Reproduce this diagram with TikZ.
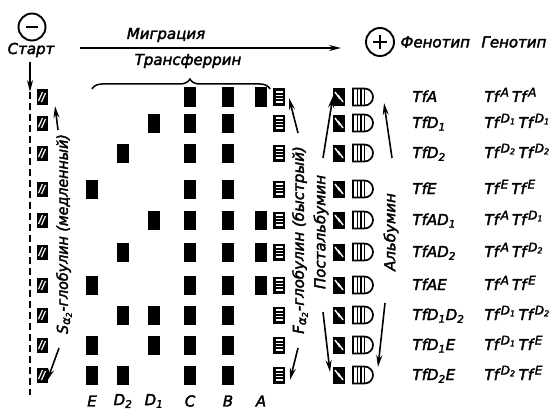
\documentclass[tikz,border=0pt]{standalone}
\usepackage{fontspec}
\setmainfont{DejaVu Sans}[ItalicFont=DejaVu Sans Oblique,ItalicFeatures={FakeBold=2.5}]
\usetikzlibrary{arrows.meta,decorations.pathreplacing,shapes.misc}
\def\tfxE{92}\def\tfxDb{123}\def\tfxDa{154}\def\tfxC{190}\def\tfxB{228}\def\tfxA{261}
\newcommand\gsp[1]{\kern1.8pt\raisebox{5.5pt}{\fontsize{12}{13}\selectfont #1}\kern3pt}
\newcommand\Dsb[1]{D\textsubscript{#1}}
\newcommand\asb{\textsubscript{\fontsize{12}{13}\selectfont α\textsubscript{2}}}
\begin{document}
\begin{tikzpicture}[x=1pt,y=-1pt,
  every node/.style={font=\itshape\fontsize{15}{17}\selectfont},
  band/.style={fill=black,inner sep=0,minimum width=12pt,minimum height=19pt},
  sbox/.style={fill=black,inner sep=0,minimum width=11pt,minimum height=15pt,
    path picture={
      \draw[white,line width=1.2pt] ([shift={(-3.5pt,-4pt)}]path picture bounding box.center) -- ([shift={(0.5pt,5pt)}]path picture bounding box.center);
      \draw[white,line width=1.2pt] ([shift={(-0.5pt,-5pt)}]path picture bounding box.center) -- ([shift={(3.5pt,4pt)}]path picture bounding box.center);}},
  fbox/.style={fill=black,inner sep=0,minimum width=12pt,minimum height=17pt,
    path picture={
      \foreach \d in {-5,-1.7,1.7,5}{
        \draw[white,line width=1.4pt] ([shift={(-3.5pt,\d pt)}]path picture bounding box.center) -- ([shift={(3.5pt,\d pt)}]path picture bounding box.center);}}},
  pbox/.style={fill=black,inner sep=0,minimum width=12pt,minimum height=17pt,
    path picture={
      \draw[white,line width=1.4pt] ([shift={(-4pt,5pt)}]path picture bounding box.center) -- ([shift={(1pt,-2pt)}]path picture bounding box.center);
      \draw[white,line width=1.4pt] ([shift={(-1pt,2pt)}]path picture bounding box.center) -- ([shift={(4pt,-5pt)}]path picture bounding box.center);}},
  abox/.style={rounded rectangle,rounded rectangle left arc=none,draw,line width=1.7pt,fill=white,
    inner sep=0,minimum width=20pt,minimum height=17pt,
    path picture={
      \foreach \d in {-5.5,-2,1.5}{
        \draw[line width=1.5pt] ([xshift=\d pt]path picture bounding box.north) -- ([xshift=\d pt]path picture bounding box.south);}}},
  arr/.style={-{Stealth[length=12pt,width=6pt]},line width=1.6pt},
  lbl/.style={rotate=90},
  sgn/.style={circle,draw,line width=1.9pt,inner sep=0}
]
\useasboundingbox (0,0) rectangle (549,412);

% poles
\node[sgn,minimum size=27pt] (minus) at (32,27) {};
\draw[line width=2.2pt] ([xshift=-6pt]minus.center) -- ([xshift=6pt]minus.center);
\node (start) at (31,50) {Старт};
\node[sgn,minimum size=28pt] (plus) at (380,42) {};
\draw[line width=2.2pt] ([xshift=-7pt]plus.center) -- ([xshift=7pt]plus.center)
  ([yshift=-7pt]plus.center) -- ([yshift=7pt]plus.center);
\node[anchor=west] (phen) at (397,42) {Фенотип};
\node[anchor=west] (gen) at (478,42) {Генотип};

% migration
\node (migr) at (166,35) {Миграция};
\coordinate (m0) at (80,48);
\coordinate (m1) at (341,48);
\draw[arr] (m0) -- (m1);
\node (transf) at (188,61) {Трансферрин};
\coordinate (br0) at (92,89);
\coordinate (br1) at (270,89);
\draw[line width=1.5pt,decorate,decoration={brace,amplitude=10pt,aspect=0.55}] (br0) -- (br1);

% start line
\coordinate (d0) at (30,62);
\coordinate (d1) at (30,92);
\coordinate (d2) at (30,395);
\draw[arr] (d0) -- (d1);
\draw[line width=1.8pt,dash pattern=on 7pt off 4pt] (d1) -- (d2);

% rows
\foreach \i/\y in {1/97,2/123,3/153,4/189,5/220,6/252,7/285,8/315,9/345,10/375}{
  \node[sbox] (s\i) at (42,\y) {};
  \node[fbox] (f\i) at (279,\y) {};
  \node[pbox] (p\i) at (339,\y) {};
  \node[abox] (al\i) at (363,\y) {};
}
\foreach \i/\y/\cs in {1/97/{C,B,A},2/123/{Da,C,B},3/153/{Db,C,B},4/189/{E,C,B},
  5/220/{Da,C,B,A},6/252/{Db,C,B,A},7/285/{E,C,B,A},8/315/{Db,Da,C,B},
  9/345/{E,Da,C,B},10/375/{E,Db,C,B}}{
  \foreach \c in \cs {\node[band] (b\i\c) at (\csname tfx\c\endcsname,\y) {};}
}

% column letters
\foreach \c/\t in {E/E,Db/\Dsb{2},Da/\Dsb{1},C/C,B/B,A/A}{
  \node (col\c) at (\csname tfx\c\endcsname,401) {\t};
}

% phenotypes and genotypes
\foreach \i/\y/\ph/\ge in {
  1/97/{TfA}/{Tf\gsp{A}Tf\gsp{A}},
  2/123/{Tf\Dsb{1}}/{Tf\gsp{\Dsb{1}}Tf\gsp{\Dsb{1}}},
  3/153/{Tf\Dsb{2}}/{Tf\gsp{\Dsb{2}}Tf\gsp{\Dsb{2}}},
  4/189/{TfE}/{Tf\gsp{E}Tf\gsp{E}},
  5/220/{TfA\Dsb{1}}/{Tf\gsp{A}Tf\gsp{\Dsb{1}}},
  6/252/{TfA\Dsb{2}}/{Tf\gsp{A}Tf\gsp{\Dsb{2}}},
  7/285/{TfAE}/{Tf\gsp{A}Tf\gsp{E}},
  8/315/{Tf\Dsb{1}\Dsb{2}}/{Tf\gsp{\Dsb{1}}Tf\gsp{\Dsb{2}}},
  9/345/{Tf\Dsb{1}E}/{Tf\gsp{\Dsb{1}}Tf\gsp{E}},
  10/375/{Tf\Dsb{2}E}/{Tf\gsp{\Dsb{2}}Tf\gsp{E}}}{
  \node[anchor=base west] (ph\i) at (409,\y+5) {\ph};
  \node[anchor=base west] (ge\i) at (481,\y+5) {\ge};
}

% side labels
\node[lbl] (slab) at (64,234) {\scalebox{0.95}[1]{S\asb-глобулин (медленный)}};
\node[lbl] (flab) at (300,240) {F\asb-глобулин (быстрый)};
\node[lbl] (plab) at (321,232) {Постальбумин};
\node[lbl] (alab) at (391,232) {Альбумин};

% arrows
\coordinate (sa0) at (58,130); \coordinate (sa1) at (55,106);
\draw[arr] (sa0) -- (sa1);
\coordinate (sb0) at (59,348); \coordinate (sb1) at (47,381);
\draw[arr] (sb0) -- (sb1);
\coordinate (fa0) at (298,133); \coordinate (fa1) at (289,98);
\draw[arr] (fa0) -- (fa1);
\coordinate (fb0) at (298,348); \coordinate (fb1) at (290,380);
\draw[arr] (fb0) -- (fb1);
\coordinate (pa0) at (323,158); \coordinate (pa1) at (333,96);
\draw[arr] (pa0) -- (pa1);
\coordinate (pb0) at (323,312); \coordinate (pb1) at (330,372);
\draw[arr] (pb0) -- (pb1);
\coordinate (aa0) at (392,158); \coordinate (aa1) at (384,103);
\draw[arr] (aa0) -- (aa1);
\coordinate (ab0) at (385,303); \coordinate (ab1) at (378,367);
\draw[arr] (ab0) -- (ab1);
\end{tikzpicture}
\end{document}
